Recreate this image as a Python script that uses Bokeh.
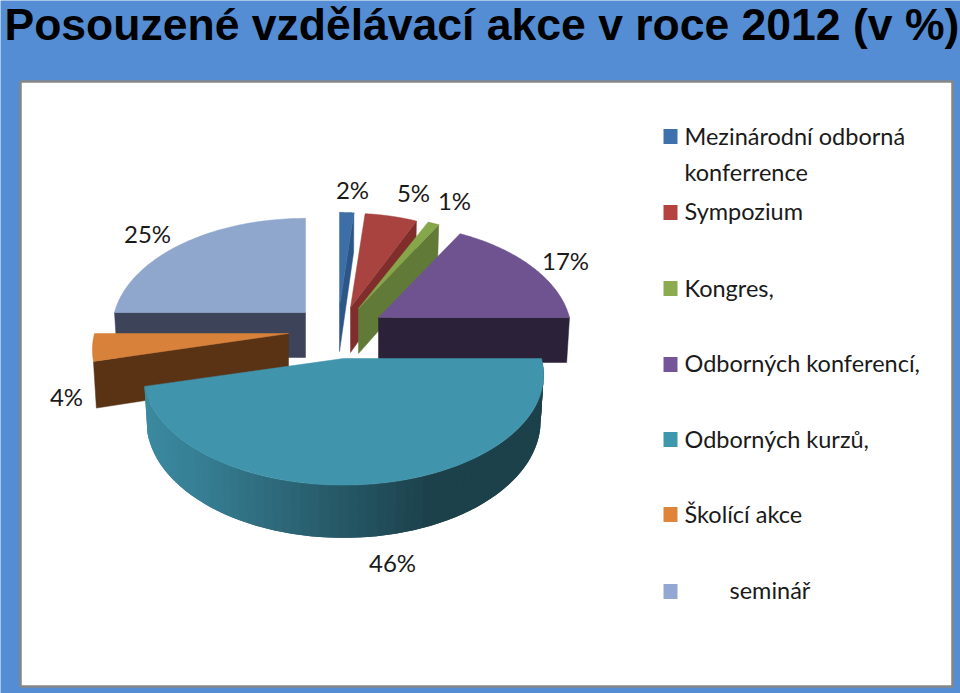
import numpy as np
from bokeh.plotting import figure
from bokeh.models import Range1d
from bokeh.core.properties import value
from bokeh.embed import file_html
from bokeh.resources import INLINE

# ---- data ----
title = "Posouzené vzdělávací akce v roce 2012 (v %)"
categories = ["Mezinárodní odborná konferrence", "Sympozium", "Kongres,",
              "Odborných konferencí,", "Odborných kurzů,", "Školící akce", "seminář"]
values = [1.5, 5.4, 1.1, 17, 46, 4, 25]      # percentages, labels show them rounded

# ---- styles ----
top_colors = ["#3d6ea6", "#a8433f", "#86a64a", "#6f5290", "#4094ac", "#d8813a", "#8fa6cd"]
wall_colors = ["#2c5687", "#7f2e2c", "#627a37", "#2b2138", "#1c3f4b", "#5a3314", "#3d4359"]
swatch_colors = ["#3f72ac", "#b5423f", "#8cab4f", "#74559a", "#3f97ad", "#e0843c", "#92a8d2"]

# slice layout (exploded, in page pixels): apex x, apex y, x radius
apex_x = [339, 350, 358, 378, 343, 288, 305]
apex_y = [306, 307, 308, 317, 358, 333, 312]
rad_x = [175, 178, 188, 191, 198, 194, 191]
RY = 108          # y radius
PERSP = 0.147     # perspective strength
DEPTH = 45        # pie thickness
SHRINK = 0.985    # lower rim narrower than upper
draw_order = [0, 1, 2, 6, 3, 5, 4]

# label placement (page pixels)
pct_x = [352, 413, 454, 565, 392, 66, 147]
pct_y = [189, 192, 200, 260, 562, 396, 233]
legend_lines = ["Mezinárodní odborná", "konferrence", "Sympozium", "Kongres,",
                "Odborných konferencí,", "Odborných kurzů,", "Školící akce", "seminář"]
legend_text_x = [684, 684, 684, 684, 684, 684, 684, 729]
legend_text_y = [135, 171, 210, 287, 362, 438, 513, 589]
swatch_y = [136, 212, 288, 364, 439, 514, 591]


def project(i, deg):
    t = np.radians(np.asarray(deg, dtype=float))
    w = 1 + PERSP * np.cos(t)
    x = apex_x[i] + rad_x[i] * np.sin(t) / w
    y = apex_y[i] - RY * np.cos(t) / w
    return x, y, w


def lower(i, x, y, w):
    return apex_x[i] + (x - apex_x[i]) * SHRINK, y + DEPTH / w


p = figure(width=960, height=693, x_range=Range1d(0, 960), y_range=Range1d(693, 0),
           x_axis_type=None, y_axis_type=None, toolbar_location=None,
           output_backend="svg", min_border=0, outline_line_color=None,
           background_fill_color="#548dd4", border_fill_color="#548dd4")
p.grid.visible = False

# white panel
p.quad(left=[20], right=[952], top=[81], bottom=[686], fill_color="white",
       line_color="#868686", line_width=2.5)

# pie
edges = np.cumsum([0] + values) * 3.6
for i in draw_order:
    t0, t1 = edges[i], edges[i + 1]
    ax, ay = apex_x[i], apex_y[i]
    # radial walls facing the viewer
    for deg, visible in ((t1, np.sin(np.radians(t1)) > 0.001), (t0, np.sin(np.radians(t0)) < -0.001)):
        if visible:
            x, y, w = project(i, deg)
            bx, by = lower(i, x, y, w)
            p.patch([ax, float(x), float(bx), ax], [ay, float(y), float(by), ay + DEPTH],
                    fill_color=wall_colors[i], line_color=wall_colors[i], line_width=0.5)
    # outer wall, shaded along the rim (each band overlaps the next to hide seams)
    if t0 < 180 < t1:
        degs = np.linspace(t0, t1, 70)
        x, y, w = project(i, degs)
        bx, by = lower(i, x, y, w)
        base = np.array([64, 148, 172])
        shade = np.interp(np.sin(np.radians(degs)), [-1, -0.6, 0, 0.4, 1], [0.95, 0.85, 0.6, 0.44, 0.44])
        xs, ys, cols = [], [], []
        for k in range(len(degs) - 1):
            e = min(k + 3, len(degs))
            xs.append([*x[k:e], *bx[k:e][::-1]])
            ys.append([*y[k:e], *by[k:e][::-1]])
            c = (base * shade[k]).astype(int)
            cols.append("#%02x%02x%02x" % tuple(c))
        p.patches(xs, ys, fill_color=cols, line_color=None)
    # top face
    degs = np.linspace(t0, t1, 80)
    x, y, _ = project(i, degs)
    p.patch([ax, *x], [ay, *y], fill_color=top_colors[i], line_color=top_colors[i], line_width=0.5)

# percentage labels
p.text(x=pct_x, y=pct_y, text=[f"{round(v)}%" for v in values], text_font=value("Lato"),
       text_font_size="24px", text_color="#1a1a1a", text_align="center", text_baseline="middle")

# legend
p.rect(x=[670] * len(categories), y=swatch_y, width=14, height=15, fill_color=swatch_colors, line_color=None)
p.text(x=legend_text_x, y=legend_text_y, text=legend_lines, text_font=value("Lato"),
       text_font_size="23.5px", text_color="#1a1a1a", text_align="left", text_baseline="middle")

# title
p.text(x=[4], y=[24], text=[title], text_font=value("Liberation Sans"), text_font_style="bold",
       text_font_size="44.5px", text_color="black", text_align="left", text_baseline="middle")

html = file_html(p, INLINE)
html = html.replace("</head>", "<style>html,body{margin:0;padding:0;overflow:hidden}</style></head>", 1)
open("out.html", "w").write(html)
